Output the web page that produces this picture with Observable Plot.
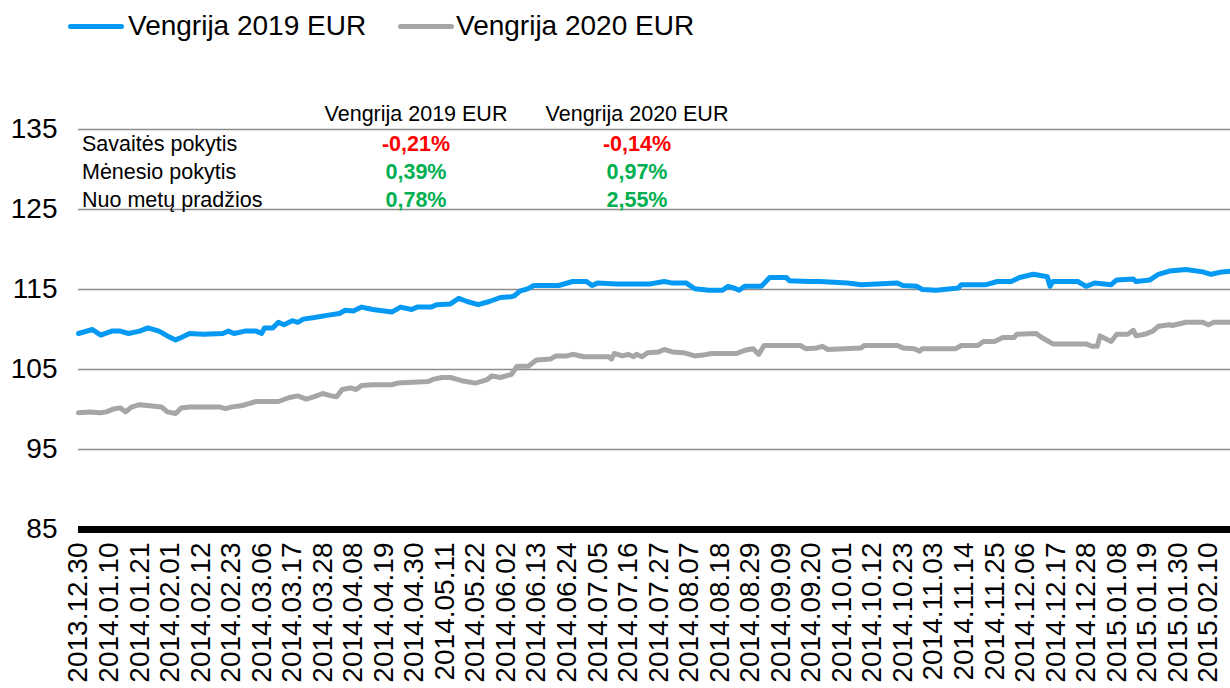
<!DOCTYPE html>
<html>
<head>
<meta charset="utf-8">
<script src="https://cdn.jsdelivr.net/npm/d3@7"></script>
<script src="https://cdn.jsdelivr.net/npm/@observablehq/plot@0.6"></script>
<style>
  html, body { margin: 0; padding: 0; background: #fff; }
  body { font-family: "Liberation Sans", Arial, sans-serif; }
  #wrap { position: relative; width: 1230px; height: 688px; overflow: hidden; }
  #legend { position: relative; height: 55px; }
  .sw { position: absolute; top: 24px; height: 5px; border-radius: 2.5px; }
  .lt { position: absolute; top: 12px; font-size: 28px; line-height: 28px; color: #000; white-space: nowrap; }
  #overlay { position: absolute; left: 0; top: 0; pointer-events: none; }
  #chart svg { display: block; }
</style>
</head>
<body>
<div id="wrap">
  <div id="legend"></div>
  <div id="chart"></div>
  <svg id="overlay" width="1230" height="688"></svg>
</div>
<script>
// ---- Data ----
const seriesNames = ["Vengrija 2019 EUR", "Vengrija 2020 EUR"];
const seriesColors = ["#0499f2", "#a6a6a6"];

const dates2019 = ["2013-12-30","2014-01-04","2014-01-07","2014-01-11","2014-01-14","2014-01-17","2014-01-21","2014-01-24","2014-01-28","2014-01-31",
"2014-02-03","2014-02-05","2014-02-08","2014-02-13","2014-02-20","2014-02-22","2014-02-24","2014-02-28","2014-03-04","2014-03-06",
"2014-03-07","2014-03-10","2014-03-12","2014-03-14","2014-03-17","2014-03-19","2014-03-21","2014-03-25","2014-03-30","2014-04-03",
"2014-04-05","2014-04-08","2014-04-11","2014-04-15","2014-04-22","2014-04-25","2014-04-29","2014-05-01","2014-05-06","2014-05-08",
"2014-05-13","2014-05-16","2014-05-19","2014-05-23","2014-05-27","2014-05-31","2014-06-04","2014-06-05","2014-06-07","2014-06-10",
"2014-06-12","2014-06-21","2014-06-26","2014-07-01","2014-07-03","2014-07-05","2014-07-12","2014-07-24","2014-07-29","2014-08-01",
"2014-08-06","2014-08-09","2014-08-14","2014-08-19","2014-08-21","2014-08-23","2014-08-25","2014-08-27","2014-09-02","2014-09-05",
"2014-09-11","2014-09-12","2014-09-19","2014-09-23","2014-10-03","2014-10-08","2014-10-21","2014-10-23","2014-10-28","2014-10-30",
"2014-11-04","2014-11-12","2014-11-13","2014-11-22","2014-11-26","2014-12-01","2014-12-04","2014-12-09","2014-12-14","2014-12-15",
"2014-12-16","2014-12-25","2014-12-28","2014-12-31","2015-01-06","2015-01-08","2015-01-14","2015-01-15","2015-01-20","2015-01-23",
"2015-01-27","2015-02-02","2015-02-08","2015-02-11","2015-02-15","2015-02-18"];
const values2019 = [109.5,110.0,109.3,109.8,109.8,109.5,109.8,110.2,109.8,109.2,
108.7,109.0,109.5,109.4,109.5,109.8,109.5,109.8,109.8,109.5,
110.2,110.2,110.9,110.6,111.1,110.9,111.3,111.5,111.8,112.0,
112.4,112.3,112.8,112.5,112.2,112.8,112.5,112.8,112.8,113.1,
113.2,113.9,113.5,113.1,113.5,114.0,114.1,114.2,114.8,115.1,
115.5,115.5,116.0,116.0,115.5,115.8,115.7,115.7,116.0,115.8,
115.8,115.1,114.9,114.9,115.4,115.2,114.9,115.4,115.4,116.5,
116.5,116.1,116.0,116.0,115.8,115.6,115.8,115.5,115.4,115.0,
114.9,115.2,115.6,115.6,116.0,116.0,116.5,116.9,116.6,115.4,
116.0,116.0,115.4,115.8,115.6,116.2,116.3,116.0,116.2,116.9,
117.3,117.5,117.2,116.9,117.2,117.3];

const dates2020 = ["2013-12-30","2014-01-03","2014-01-07","2014-01-09","2014-01-12","2014-01-14","2014-01-16","2014-01-18","2014-01-21","2014-01-29",
"2014-01-31","2014-02-03","2014-02-05","2014-02-08","2014-02-19","2014-02-21","2014-02-23","2014-02-27","2014-03-01","2014-03-04",
"2014-03-12","2014-03-16","2014-03-19","2014-03-22","2014-03-25","2014-03-28","2014-03-31","2014-04-02","2014-04-04","2014-04-07",
"2014-04-09","2014-04-11","2014-04-15","2014-04-22","2014-04-24","2014-05-05","2014-05-07","2014-05-10","2014-05-13","2014-05-17",
"2014-05-22","2014-05-26","2014-05-28","2014-05-31","2014-06-04","2014-06-06","2014-06-10","2014-06-13","2014-06-18","2014-06-20",
"2014-06-24","2014-06-26","2014-06-30","2014-07-09","2014-07-10","2014-07-11","2014-07-14","2014-07-16","2014-07-18","2014-07-19",
"2014-07-21","2014-07-23","2014-07-27","2014-07-29","2014-08-01","2014-08-05","2014-08-09","2014-08-12","2014-08-15","2014-08-24",
"2014-08-27","2014-08-30","2014-09-01","2014-09-03","2014-09-16","2014-09-18","2014-09-22","2014-09-24","2014-09-26","2014-10-02",
"2014-10-08","2014-10-09","2014-10-21","2014-10-23","2014-10-27","2014-10-29","2014-10-30","2014-11-11","2014-11-13","2014-11-19",
"2014-11-21","2014-11-25","2014-11-28","2014-12-02","2014-12-03","2014-12-10","2014-12-12","2014-12-16","2014-12-28","2014-12-30",
"2015-01-01","2015-01-02","2015-01-06","2015-01-08","2015-01-12","2015-01-14","2015-01-15","2015-01-18","2015-01-21","2015-01-23",
"2015-01-27","2015-01-28","2015-02-02","2015-02-08","2015-02-10","2015-02-12","2015-02-18"];
const values2020 = [99.6,99.7,99.6,99.7,100.1,100.2,99.7,100.3,100.6,100.3,
99.7,99.5,100.2,100.3,100.3,100.1,100.3,100.5,100.7,101.0,
101.0,101.5,101.7,101.3,101.6,102.0,101.7,101.6,102.5,102.7,
102.5,103.0,103.1,103.1,103.3,103.5,103.8,104.0,104.0,103.6,
103.3,103.7,104.2,104.0,104.4,105.4,105.4,106.2,106.3,106.7,
106.7,106.9,106.6,106.6,106.3,107.0,106.7,106.9,106.6,106.9,
106.6,107.1,107.2,107.5,107.2,107.1,106.7,106.8,107.0,107.0,
107.4,107.6,106.9,108.0,108.0,107.6,107.7,107.9,107.5,107.6,
107.7,108.0,108.0,107.7,107.6,107.3,107.6,107.6,108.0,108.0,
108.5,108.5,109.0,109.0,109.4,109.5,109.0,108.2,108.2,107.9,
107.9,109.2,108.5,109.4,109.4,109.9,109.2,109.4,109.8,110.4,
110.6,110.5,110.9,110.9,110.6,110.9,110.9];

const xTickLabels = ["2013.12.30","2014.01.10","2014.01.21","2014.02.01","2014.02.12","2014.02.23","2014.03.06","2014.03.17","2014.03.28","2014.04.08",
"2014.04.19","2014.04.30","2014.05.11","2014.05.22","2014.06.02","2014.06.13","2014.06.24","2014.07.05","2014.07.16","2014.07.27",
"2014.08.07","2014.08.18","2014.08.29","2014.09.09","2014.09.20","2014.10.01","2014.10.12","2014.10.23","2014.11.03","2014.11.14",
"2014.11.25","2014.12.06","2014.12.17","2014.12.28","2015.01.08","2015.01.19","2015.01.30","2015.02.10"];
const yTicks = [85, 95, 105, 115, 125, 135];

const tableHeaders = ["Vengrija 2019 EUR", "Vengrija 2020 EUR"];
const tableRows = ["Savaitės pokytis", "Mėnesio pokytis", "Nuo metų pradžios"];
const tableValues2019 = ["-0,21%", "0,39%", "0,78%"];
const tableValues2020 = ["-0,14%", "0,97%", "2,55%"];

// ---- Build ----
const parse = d3.utcParse("%Y-%m-%d");
const parseTick = d3.utcParse("%Y.%m.%d");
const fmtTick = d3.utcFormat("%Y.%m.%d");
const data2019 = dates2019.map((d, i) => ({date: parse(d), value: values2019[i]}));
const data2020 = dates2020.map((d, i) => ({date: parse(d), value: values2020[i]}));
const tickDates = xTickLabels.map(parseTick);

const FONT = '"Liberation Sans", Arial, Helvetica, sans-serif';

// Legend
const legend = document.getElementById("legend");
const legendPos = [{sw: 68, tx: 128}, {sw: 398, tx: 456}];
seriesNames.forEach((name, i) => {
  const sw = document.createElement("div");
  sw.className = "sw";
  sw.style.left = legendPos[i].sw + "px";
  sw.style.width = "56px";
  sw.style.background = seriesColors[i];
  legend.appendChild(sw);
  const t = document.createElement("span");
  t.className = "lt";
  t.style.left = legendPos[i].tx + "px";
  t.textContent = name;
  legend.appendChild(t);
});

const chart = Plot.plot({
  width: 1230,
  height: 633,
  marginTop: 74,
  marginBottom: 159,
  marginLeft: 78,
  marginRight: 0,
  style: {fontFamily: FONT, color: "#000", background: "#fff", overflow: "visible"},
  x: {type: "utc", domain: [parse("2013-12-30"), parse("2015-02-18")]},
  y: {domain: [85, 135]},
  marks: [
    Plot.gridY(yTicks.slice(1), {stroke: "#8c8c8c", strokeOpacity: 1, strokeWidth: 1.5}),
    Plot.line(data2020, {x: "date", y: "value", stroke: seriesColors[1], strokeWidth: 5}),
    Plot.line(data2019, {x: "date", y: "value", stroke: seriesColors[0], strokeWidth: 5}),
    Plot.ruleY([85], {stroke: "#000", strokeWidth: 7}),
    Plot.axisY({ticks: yTicks, tickSize: 0, tickPadding: 21, fontSize: 28, label: null, tickFormat: d => String(d)}),
    Plot.axisX({ticks: tickDates, tickFormat: fmtTick, tickRotate: -90, tickSize: 0, tickPadding: 13, fontSize: 28, label: null})
  ]
});
document.getElementById("chart").appendChild(chart);

// Table overlay (page coordinates)
const ov = d3.select("#overlay").style("font-family", FONT);
const colCenters = [416, 637];
const headerBaseline = 121;
const rowBaselines = [151, 179, 207];
tableHeaders.forEach((h, i) => {
  ov.append("text").attr("x", colCenters[i]).attr("y", headerBaseline)
    .attr("text-anchor", "middle").attr("font-size", 21.5).attr("fill", "#000").text(h);
});
tableRows.forEach((r, i) => {
  ov.append("text").attr("x", 82).attr("y", rowBaselines[i])
    .attr("font-size", 21.5).attr("fill", "#000").text(r);
  [tableValues2019[i], tableValues2020[i]].forEach((v, j) => {
    ov.append("text").attr("x", colCenters[j]).attr("y", rowBaselines[i])
      .attr("text-anchor", "middle").attr("font-size", 21.5).attr("font-weight", "bold")
      .attr("fill", v.trim().startsWith("-") ? "#ff0000" : "#00b050").text(v);
  });
});
</script>
</body>
</html>
